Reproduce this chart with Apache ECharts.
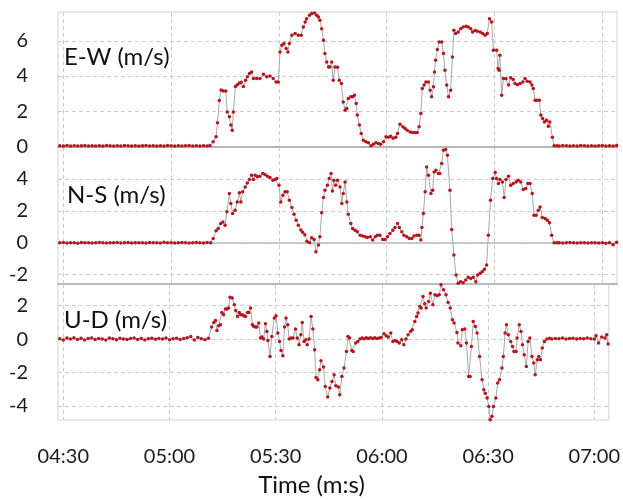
<!DOCTYPE html>
<html>
<head>
<meta charset="utf-8">
<script src="https://cdn.jsdelivr.net/npm/echarts@6/dist/echarts.min.js"></script>
<style>html,body{margin:0;padding:0;background:#fff;}#c{width:623px;height:500px;}</style>
</head>
<body>
<div id="c"></div>
<script>
// time in seconds (04:30 = 270 s)
const xTicks = [270, 300, 330, 360, 390, 420];
const ewTicks = [0, 2, 4, 6];
const nsTicks = [-2, 0, 2, 4];
const udTicks = [-4, -2, 0, 2];
const panelNames = ['E-W (m/s)', 'N-S (m/s)', 'U-D (m/s)'];
const axisTitle = 'Time (m:s)';

const ewPoints = [
[269,0.02],[270,0.00],[271,0.03],[272,0.01],[273,0.02],[274,0.00],[275,0.02],[276,0.03],[277,0.01],[278,0.02],
[279,0.00],[280,0.02],[281,0.01],[282,0.03],[283,0.02],[284,0.00],[285,0.02],[286,0.01],[287,0.03],[288,0.02],
[289,0.01],[290,0.02],[291,0.00],[292,0.02],[293,0.03],[294,0.01],[295,0.02],[296,0.00],[297,0.02],[298,0.01],
[299,0.03],[300,0.02],[301,0.01],[302,0.02],[303,0.00],[304,0.02],[305,0.03],[306,0.01],[307,0.02],[308,0.00],
[309,0.02],[310,0.01],[310.8,0.03],
[311.7,0.25],[312.5,0.53],[312.9,1.33],[313.4,2.6],[313.9,3.2],[314.5,3.15],[315.2,3.15],[315.6,1.95],[316.2,1.67],
[316.6,1.2],[317.0,0.9],[317.3,1.95],[317.9,3.4],[318.4,3.5],[319.0,3.6],[319.5,3.65],[320.1,3.4],[320.7,3.76],
[321.2,3.95],[321.8,4.14],[322.4,4.23],[322.9,3.86],[323.8,3.85],[324.7,3.86],[325.7,4.1],[326.6,3.95],[327.5,4.0],
[328.4,3.86],[329.2,3.66],[329.8,3.66],[330.3,5.37],[330.8,5.75],[331.4,5.85],[332.0,5.57],[332.5,5.37],[332.9,5.85],
[333.6,6.32],[334.5,6.42],[335.4,6.32],[336.2,6.32],[336.8,6.8],[337.3,7.08],[337.7,7.27],[338.5,7.46],[339.1,7.56],
[339.9,7.6],[340.5,7.46],[341.0,7.37],[341.4,7.18],[341.9,6.7],[342.4,6.04],[342.8,5.28],[343.3,4.8],[343.8,4.52],
[344.2,4.52],[344.7,4.8],[345.1,3.76],[345.6,4.52],[346.3,4.5],[346.8,3.76],[347.4,3.57],[347.9,2.52],[348.4,2.05],
[348.9,2.15],[349.3,2.72],[350.0,2.81],[350.5,2.81],[351.0,2.9],[351.5,2.43],[351.8,1.77],[352.4,1.2],[352.9,0.72],
[353.5,0.34],[354.2,0.25],[354.9,0.19],[355.6,0.02],[356.3,0.11],[357.0,0.19],[357.7,0.15],[358.3,0.11],[359.1,0.25],
[359.8,0.53],[360.5,0.5],[361.1,0.57],[361.8,0.45],[362.5,0.5],[363.0,0.72],[363.7,1.25],[364.5,1.1],[365.1,1.0],
[365.7,0.91],[366.5,0.81],[367.2,0.78],[367.9,0.78],[368.5,0.78],[369.0,1.1],[369.5,1.86],[369.9,3.29],[370.4,3.48],
[370.9,3.66],[371.6,3.66],[372.1,3.19],[372.5,2.81],[373.0,3.38],[373.3,4.23],[373.6,4.9],[374.1,5.51],[374.6,5.94],
[375.3,5.94],[375.8,5.28],[376.2,4.33],[376.7,3.48],[377.2,2.81],[377.8,3.19],[378.3,5.09],[378.7,6.61],[379.2,6.42],
[379.9,6.51],[380.6,6.7],[381.3,6.8],[382.1,6.84],[382.7,6.8],[383.4,6.7],[383.9,6.51],[384.6,6.6],[385.2,6.55],
[386.0,6.51],[386.7,6.42],[387.4,6.32],[388.0,6.42],[388.6,7.27],[389.2,7.08],[389.7,5.47],[390.6,5.47],[391.0,4.43],
[391.3,4.33],[391.5,5.18],[392.0,2.9],[392.5,3.86],[393.2,3.84],[393.9,3.48],[394.5,3.9],[395.2,3.8],[395.7,3.57],
[396.4,3.5],[397.1,3.57],[397.9,3.66],[398.5,3.86],[399.1,3.7],[399.9,3.66],[400.4,3.48],[400.8,3.29],[401.3,2.62],
[401.8,2.62],[402.5,2.62],[402.9,1.77],[403.4,1.58],[403.9,1.38],[404.5,1.48],[405.0,1.14],[405.4,1.38],[406.1,0.5],
[406.6,0.02],
[407.4,0.02],[408,0.01],[409,0.03],[410,0.02],[411,0.00],[412,0.02],[413,0.01],[414,0.03],[415,0.02],[416,0.01],
[417,0.02],[418,0.00],[419,0.02],[420,0.03],[421,0.01],[422,0.02],[423,0.01],[424,0.03]
];

const nsPoints = [
[269,0.00],[270,0.02],[271,-0.02],[272,0.01],[273,0.00],[274,-0.03],[275,0.02],[276,0.00],[277,0.01],[278,-0.02],
[279,0.00],[280,0.02],[281,0.00],[282,-0.02],[283,0.01],[284,0.00],[285,0.02],[286,-0.01],[287,0.00],[288,0.02],
[289,-0.02],[290,0.00],[291,0.01],[292,0.00],[293,-0.02],[294,0.02],[295,0.00],[296,0.01],[297,-0.01],[298,0.03],
[299,0.00],[300,0.01],[301,-0.02],[302,0.00],[303,0.02],[304,0.01],[305,-0.01],[306,0.00],[307,0.02],[308,0.00],
[309,-0.01],[310,0.02],[311,0.00],
[311.7,0.27],[312.5,0.75],[313.1,0.9],[313.8,1.21],[314.4,1.31],[315.0,1.1],[315.5,1.94],[316.2,3.09],[316.6,2.46],
[317.1,1.84],[317.8,2.04],[318.4,2.56],[319.0,3.13],[319.4,2.56],[319.9,3.19],[320.6,3.5],[321.2,3.75],[321.8,3.96],
[322.4,4.23],[322.9,3.96],[323.4,4.23],[324.0,4.13],[324.7,4.17],[325.5,4.34],[326.1,4.27],[326.8,4.17],[327.5,4.09],
[328.3,3.92],[328.9,3.96],[329.4,4.02],[330.0,3.6],[330.5,2.56],[331.1,2.98],[331.7,3.19],[332.3,3.19],[332.9,2.67],
[333.6,2.21],[334.2,1.79],[334.8,1.42],[335.4,1.1],[336.1,0.8],[336.6,0.66],[337.2,0.5],[337.8,0.1],[338.5,0.0],
[339.1,0.32],[339.8,0.2],[340.3,-0.56],[341.0,-0.14],[341.4,0.38],[341.9,1.88],[342.4,2.84],[342.8,3.29],[343.5,3.6],
[344.0,4.02],[344.5,4.34],[344.9,3.25],[345.3,3.92],[345.8,3.6],[346.3,3.92],[347.0,3.5],[347.5,2.46],[347.9,3.09],
[348.4,3.81],[348.9,2.56],[349.3,1.79],[350.0,1.21],[350.5,0.9],[351.2,0.79],[351.8,0.69],[352.6,0.48],[353.3,0.42],
[354.0,0.38],[354.6,0.33],[355.4,0.38],[356.1,0.17],[356.8,0.38],[357.4,0.48],[358.1,0.48],[358.9,0.21],[359.5,0.21],
[360.2,0.38],[360.9,0.58],[361.7,0.79],[362.3,0.96],[363.0,1.21],[363.5,0.96],[364.2,0.69],[364.8,0.48],[365.6,0.38],
[366.3,0.27],[367.0,0.27],[367.6,0.42],[368.4,0.48],[369.0,0.48],[369.5,0.17],[369.8,0.96],[370.2,1.84],[370.7,3.19],
[371.1,4.75],[371.6,4.23],[372.3,3.09],[372.8,3.29],[373.2,4.44],[373.7,4.54],[374.4,4.34],[374.8,4.34],[375.3,4.96],
[375.8,5.79],[376.4,5.84],[376.9,5.48],[377.6,3.29],[378.1,0.84],[378.7,-0.77],[379.3,-2.02],[379.9,-2.54],[380.6,-2.44],
[381.3,-2.5],[382.0,-2.33],[382.7,-2.16],[383.4,-2.23],[384.1,-2.16],[384.8,-2.44],[385.3,-2.02],[386.0,-1.91],[386.6,-1.81],
[387.2,-1.66],[387.8,-1.39],[388.3,0.48],[388.9,2.67],[389.5,4.02],[390.2,4.4],[390.6,4.02],[391.1,3.71],[391.5,3.96],
[392.2,3.81],[392.7,2.84],[393.2,3.96],[393.9,4.17],[394.5,3.6],[395.2,3.71],[396.0,3.81],[396.6,3.92],[397.3,3.81],
[398.0,3.34],[398.7,3.4],[399.3,3.71],[399.9,3.71],[400.5,3.09],[401.0,1.73],[401.6,1.73],[402.2,2.04],[402.7,2.25],
[403.3,1.59],[404.1,1.52],[404.7,1.42],[405.3,1.25],[405.9,0.48],[406.6,0.0],
[407.4,0.00],[408,0.01],[409,-0.01],[410,0.00],[411,0.02],[412,0.00],[413,-0.02],[414,0.01],[415,0.00],[416,-0.01],
[417,0.01],[418,0.00],[419,-0.02],[420,0.01],[421,-0.03],[422,0.00],[423,-0.12],[424,0.03]
];

const udPoints = [
[269,0.02],[270,-0.05],[271,0.06],[272,0.00],[273,0.08],[274,-0.03],[275,0.05],[276,-0.06],[277,0.03],[278,0.07],
[279,-0.02],[280,0.04],[281,0.00],[282,-0.05],[283,0.06],[284,0.02],[285,-0.04],[286,0.05],[287,0.01],[288,-0.03],
[289,0.04],[290,0.06],[291,-0.02],[292,0.03],[293,-0.05],[294,0.02],[295,0.05],[296,-0.01],[297,0.03],[298,0.00],
[299,0.06],[300,-0.04],[301,0.02],[302,0.05],[303,-0.02],[304,0.04],[305,0.08],[306,0.15],[307,-0.05],[308,0.10],
[309,0.02],[310,-0.04],[311,0.05],
[311.9,0.72],[312.5,0.99],[313.0,1.11],[313.4,0.51],[313.9,0.8],[314.4,0.86],[314.8,1.59],[315.3,1.46],[315.8,1.8],
[316.2,1.8],[316.7,1.86],[317.1,2.51],[317.7,2.46],[318.3,2.05],[318.7,1.71],[319.2,1.35],[319.7,1.59],[320.1,1.46],
[320.6,1.46],[321.0,1.4],[321.5,1.35],[322.0,1.59],[322.4,1.59],[322.9,1.86],[323.4,0.86],[323.8,0.75],[324.3,0.72],
[324.7,0.72],[325.2,0.96],[325.7,0.06],[326.1,0.12],[326.6,0.0],[327.1,0.92],[327.5,0.46],[327.8,-0.08],[328.4,-1.04],
[328.9,0.16],[329.6,1.26],[330.1,1.4],[330.6,0.36],[331.1,-0.14],[331.5,-0.68],[332.0,-1.0],[332.5,0.72],[332.9,1.26],
[333.4,0.86],[333.8,0.0],[334.3,0.06],[334.9,0.06],[335.6,0.6],[336.1,0.06],[336.6,-0.34],[337.1,0.26],[337.5,0.99],
[338.0,-0.14],[338.5,-0.04],[338.9,-0.34],[339.4,0.0],[340.0,1.35],[340.5,0.6],[341.0,-0.64],[341.4,-2.3],[341.9,-2.44],
[342.4,-1.84],[342.8,-1.3],[343.5,-1.68],[344.0,-2.84],[344.7,-3.47],[345.3,-2.93],[345.9,-2.54],[346.5,-2.14],[347.0,-2.8],
[347.7,-2.87],[348.1,-3.34],[348.7,-2.24],[349.3,-1.74],[350.0,-0.74],[350.4,0.16],[350.9,0.06],[351.5,-0.68],[351.9,-0.74],
[352.6,-0.24],[353.2,-0.14],[353.8,0.0],[354.4,0.06],[355.0,0.02],[355.6,0.08],[356.2,0.04],[356.8,0.08],[357.4,0.04],
[358.0,0.08],[358.6,0.04],[359.2,0.06],[359.8,0.1],[360.6,0.32],[361.2,0.2],[361.8,0.12],[362.5,0.36],[363.1,-0.14],
[363.7,-0.08],[364.3,-0.14],[364.9,-0.24],[365.6,-0.04],[366.2,-0.34],[366.8,0.0],[367.4,0.26],[368.1,0.46],[368.6,0.56],
[369.3,1.05],[369.8,1.35],[370.2,1.56],[370.7,1.95],[371.1,1.86],[371.6,2.55],[372.1,2.11],[372.5,1.86],[373.2,2.25],
[373.7,2.75],[374.4,2.05],[375.0,2.65],[375.6,2.59],[376.2,2.65],[376.7,3.25],[377.4,2.95],[378.1,2.65],[378.7,2.19],
[379.3,1.86],[379.9,1.16],[380.4,0.96],[381.2,0.4],[381.5,-0.24],[382.3,-0.4],[382.7,0.56],[383.4,0.6],[383.9,-0.24],
[384.5,-2.24],[384.9,-2.24],[385.3,-0.44],[385.8,1.05],[386.4,0.76],[386.9,0.36],[387.6,-1.04],[388.3,-2.44],[388.8,-3.04],
[389.2,-3.24],[389.7,-3.53],[390.2,-4.04],[390.6,-4.83],[391.1,-4.63],[391.5,-4.04],[392.2,-3.53],[392.7,-2.63],[393.2,-2.44],
[393.9,-1.74],[394.3,-1.04],[394.8,0.36],[395.2,0.86],[395.7,0.26],[396.4,-0.14],[396.9,-0.44],[397.3,-0.74],[397.9,-0.74],
[398.2,0.06],[398.8,0.86],[399.3,0.46],[399.7,-0.34],[400.2,-0.94],[400.8,-1.64],[401.3,-0.14],[401.8,0.06],[402.4,-1.04],
[402.9,-1.44],[403.3,-2.14],[403.9,-1.24],[404.3,-1.04],[404.8,-1.24],[405.3,-0.54],[405.9,-0.14],[406.6,0.0],
[407.4,0.05],[408,0.00],[409,0.04],[410,0.02],[411,0.06],[412,0.00],[413,0.03],[414,0.05],[415,0.00],[416,0.04],
[417,0.02],[418,0.06],[419,0.02],[420,0.00],[420.5,0.2],[421.2,-0.24],[422.1,0.12],[423.0,0.06],[423.5,0.26],[423.9,-0.3]
];

const FONT = 'Lato';
const grids = [
  {left: 58, width: 559, top: 12, height: 135},
  {left: 58, width: 559, top: 147, height: 137},
  {left: 58, width: 559, top: 284, height: 136}
].map(g => Object.assign(g, {show: true, borderColor: '#d2d2d2', borderWidth: 1, containLabel: false}));

function fmtTime(v) {
  const m = Math.floor(v / 60), s = Math.round(v - m * 60);
  return String(m).padStart(2, '0') + ':' + String(s).padStart(2, '0');
}
const dashed = {show: true, lineStyle: {color: '#cccccc', type: [4, 3], width: 1}};

const xAxes = [0, 1, 2].map(i => ({
  type: 'value', gridIndex: i, min: 268.5, max: 424.1, position: 'bottom',
  axisLine: i < 2 ? {show: true, onZero: false, lineStyle: {color: '#b5b5b5', width: 2}} : {show: false},
  axisTick: {show: false, customValues: xTicks},
  axisLabel: {show: i === 2, customValues: xTicks, formatter: fmtTime, fontFamily: FONT, fontSize: 20,
    color: '#1a1a1a', margin: 27},
  splitLine: dashed
}));
// zero lines for N-S and U-D panels (axis lines drawn at y = 0, beneath the series)
[1, 2].forEach(i => xAxes.push({
  type: 'value', gridIndex: i, min: 268.5, max: 424.1, position: 'top',
  axisLine: {show: true, onZero: true, lineStyle: {color: '#bdbdbd', width: 1.5}},
  axisTick: {show: false}, axisLabel: {show: false}, splitLine: {show: false}
}));

const yRanges = [[-0.05, 7.65, ewTicks, 8], [-2.58, 6.0, nsTicks, 10], [-4.85, 3.3, udTicks, 3]];
const yAxes = yRanges.map((r, i) => ({
  type: 'value', gridIndex: i, min: r[0], max: r[1],
  axisLine: {show: false},
  axisTick: {show: false, customValues: r[2]},
  axisLabel: {customValues: r[2], fontFamily: FONT, fontSize: 20, color: '#1a1a1a', margin: 30,
    padding: [0, 0, r[3], 0]},
  splitLine: dashed
}));

function mkSeries(data, i) {
  return {
    type: 'line', xAxisIndex: i, yAxisIndex: i, data: data,
    symbol: 'circle', symbolSize: 3.5, showAllSymbol: true,
    lineStyle: {color: '#a8a8a8', width: 1},
    itemStyle: {color: '#b3161c'},
    emphasis: {disabled: true},
    z: 3
  };
}

const textLabels = [
  {left: 64, top: 45}, {left: 67, top: 183}, {left: 64, top: 308}
].map((p, i) => ({
  type: 'text', left: p.left, top: p.top, z: 10,
  style: {text: panelNames[i], fontFamily: FONT, fontSize: 24, fill: '#111'}
}));
textLabels.push({
  type: 'text', left: 'center', top: 473, z: 10,
  style: {text: axisTitle, fontFamily: FONT, fontSize: 24, fill: '#111'}
});

const chart = echarts.init(document.getElementById('c'), null, {renderer: 'canvas'});
chart.setOption({
  animation: false,
  backgroundColor: '#ffffff',
  grid: grids,
  xAxis: xAxes,
  yAxis: yAxes,
  series: [mkSeries(ewPoints, 0), mkSeries(nsPoints, 1), mkSeries(udPoints, 2)],
  graphic: textLabels
});
</script>
</body>
</html>
